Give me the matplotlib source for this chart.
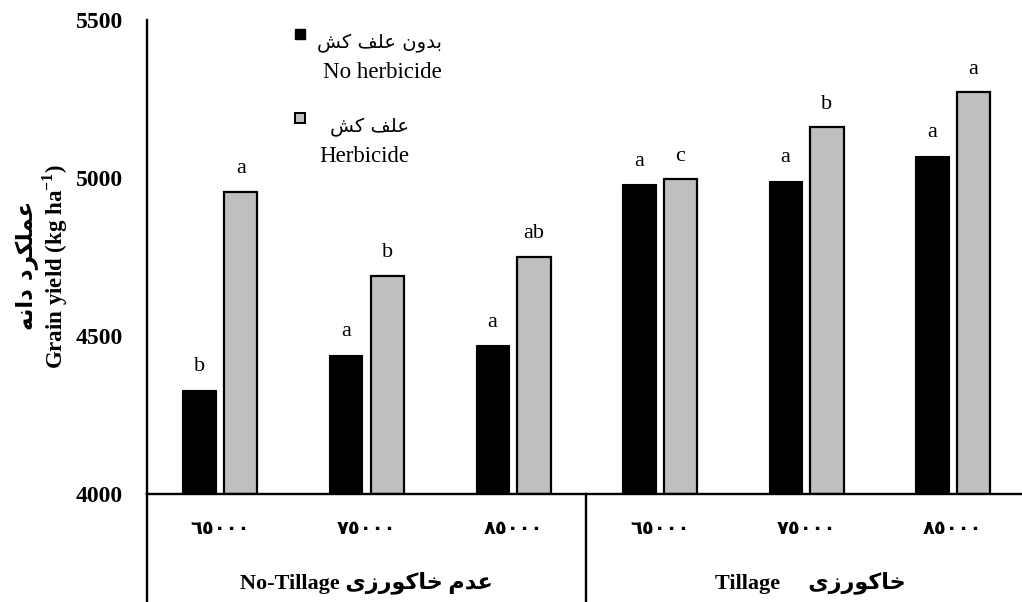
import matplotlib
matplotlib.use("Agg")
import matplotlib.pyplot as plt
from matplotlib.patches import Rectangle
from matplotlib.lines import Line2D
import matplotlib.transforms as mtransforms

# ---------------------------------------------------------------- data
densities = ['٦٥٠٠٠', '٧٥٠٠٠', '٨٥٠٠٠', '٦٥٠٠٠', '٧٥٠٠٠', '٨٥٠٠٠']
no_herbicide = [4330, 4440, 4470, 4980, 4990, 5070]
herbicide = [4955, 4690, 4750, 4995, 5160, 5270]
letters_no_herbicide = ['b', 'a', 'a', 'a', 'a', 'a']
letters_herbicide = ['a', 'b', 'ab', 'c', 'b', 'a']
y_ticks = [4000, 4500, 5000, 5500]

# ---------------------------------------------------------------- Persian shaping
# (isolated, final, initial, medial) presentation forms; None = joins only to the right
FORMS = {
    'ا': ('\uFE8D', '\uFE8E', None, None),
    'ب': ('\uFE8F', '\uFE90', '\uFE91', '\uFE92'),
    'خ': ('\uFEA5', '\uFEA6', '\uFEA7', '\uFEA8'),
    'د': ('\uFEA9', '\uFEAA', None, None),
    'ر': ('\uFEAD', '\uFEAE', None, None),
    'ز': ('\uFEAF', '\uFEB0', None, None),
    'ش': ('\uFEB5', '\uFEB6', '\uFEB7', '\uFEB8'),
    'ع': ('\uFEC9', '\uFECA', '\uFECB', '\uFECC'),
    'ف': ('\uFED1', '\uFED2', '\uFED3', '\uFED4'),
    'ک': ('\uFB8E', '\uFB8F', '\uFB90', '\uFB91'),
    'ل': ('\uFEDD', '\uFEDE', '\uFEDF', '\uFEE0'),
    'م': ('\uFEE1', '\uFEE2', '\uFEE3', '\uFEE4'),
    'ن': ('\uFEE5', '\uFEE6', '\uFEE7', '\uFEE8'),
    'ه': ('\uFEE9', '\uFEEA', '\uFEEB', '\uFEEC'),
    'و': ('\uFEED', '\uFEEE', None, None),
    'ی': ('\uFBFC', '\uFBFD', '\uFBFE', '\uFBFF'),
}


def fa(text):
    """Join Persian letters into their contextual forms and lay them out right-to-left."""
    out = []
    for i, ch in enumerate(text):
        forms = FORMS.get(ch)
        if forms is None:
            out.append(ch)
            continue
        prev = text[i - 1] if i > 0 else ''
        nxt = text[i + 1] if i + 1 < len(text) else ''
        join_prev = prev in FORMS and FORMS[prev][2] is not None
        join_next = nxt in FORMS and forms[2] is not None
        if join_prev and join_next:
            out.append(forms[3])
        elif join_prev:
            out.append(forms[1])
        elif join_next:
            out.append(forms[2])
        else:
            out.append(forms[0])
    return ''.join(reversed(out))


FAM = ['Liberation Serif', 'DejaVu Sans']
plt.rcParams['font.family'] = FAM
plt.rcParams['mathtext.fontset'] = 'custom'
plt.rcParams['mathtext.rm'] = 'Liberation Serif'
plt.rcParams['mathtext.bf'] = 'Liberation Serif:bold'

# ---------------------------------------------------------------- figure
W, H = 1022, 602
fig = plt.figure(figsize=(W / 100, H / 100), dpi=100)
ax_left, ax_right, ax_top, ax_bottom = 146.7, 1026.0, 19.5, 494.0
ax = fig.add_axes([ax_left / W, 1 - ax_bottom / H,
                   (ax_right - ax_left) / W, (ax_bottom - ax_top) / H])

x = list(range(len(densities)))
bw = 0.228
off = 0.142
bars_no = ax.bar([i - off for i in x], [v - 4000 for v in no_herbicide], bw,
                 bottom=4000, color='black', edgecolor='black', linewidth=0.8, zorder=2)
bars_h = ax.bar([i + off for i in x], [v - 4000 for v in herbicide], bw,
                bottom=4000, color='#BFBFBF', edgecolor='black', linewidth=1.6, zorder=2)

for i in x:
    ax.annotate(letters_no_herbicide[i], (i - off, no_herbicide[i]), xytext=(0, 16.5),
                textcoords='offset points', ha='center', va='center', fontsize=16,
                family='Liberation Serif')
    ax.annotate(letters_herbicide[i], (i + off, herbicide[i]), xytext=(0, 16.5),
                textcoords='offset points', ha='center', va='center', fontsize=16,
                family='Liberation Serif')

ax.set_xlim(-0.5, 5.5)
ax.set_ylim(4000, 5500)
ax.set_yticks(y_ticks)
ax.set_yticklabels([str(t) for t in y_ticks], fontsize=17, fontweight='bold',
                   family='Liberation Serif')
ax.set_xticks(x)
ax.set_xticklabels(densities, fontsize=14, fontweight='bold', family='DejaVu Sans')
for lbl in ax.get_xticklabels():
    lbl.set_verticalalignment('center')
ax.tick_params(axis='y', length=0, pad=17)
ax.tick_params(axis='x', length=0, pad=24.5)

for s in ('top', 'right'):
    ax.spines[s].set_visible(False)
for s in ('left', 'bottom'):
    ax.spines[s].set_linewidth(1.7)
    ax.spines[s].set_color('black')

# category frame below the axis
trans = mtransforms.blended_transform_factory(ax.transData, ax.transAxes)
ax.add_line(Line2D([-0.5, -0.5], [0, -0.3], transform=trans, color='black',
                   linewidth=1.7, clip_on=False))
ax.add_line(Line2D([2.5, 2.5], [0, -0.3], transform=trans, color='black',
                   linewidth=1.7, clip_on=False))

ax.annotate('No-Tillage ' + fa('عدم خاکورزی'), xy=(1, 0), xycoords=trans,
            xytext=(0, -63.5), textcoords='offset points', ha='center', va='center',
            fontsize=16, fontweight='bold', family=FAM)
ax.annotate('Tillage     ' + fa('خاکورزی'), xy=(4.03, 0), xycoords=trans,
            xytext=(0, -63.5), textcoords='offset points', ha='center', va='center',
            fontsize=16, fontweight='bold', family=FAM)

# y-axis title, English and Persian
fig.text(55 / W, 1 - 266 / H, r'Grain yield (kg ha$^{\mathbf{-1}}$)', rotation=90,
         ha='center', va='center', fontsize=16.5, fontweight='bold', family='Liberation Serif')
fig.text(27 / W, 1 - 265 / H, fa('عملکرد دانه'), rotation=90, ha='center', va='center',
         fontsize=16.5, fontweight='bold', family='DejaVu Sans')

# legend
def px(xp, yp):
    return xp / W, 1 - yp / H

fig.add_artist(Rectangle(px(295, 39), 10 / W, 10 / H, transform=fig.transFigure,
                         facecolor='black', edgecolor='black', linewidth=1.0))
fig.add_artist(Rectangle(px(295, 123), 10 / W, 10 / H, transform=fig.transFigure,
                         facecolor='#BFBFBF', edgecolor='black', linewidth=1.4))
fig.text(*px(442, 43), fa('بدون علف کش'), ha='right', va='center', fontsize=14,
         family='DejaVu Sans')
fig.text(*px(442, 73), 'No herbicide', ha='right', va='center', fontsize=16.5,
         family='Liberation Serif')
fig.text(*px(409, 127), fa('علف کش'), ha='right', va='center', fontsize=14,
         family='DejaVu Sans')
fig.text(*px(409, 157), 'Herbicide', ha='right', va='center', fontsize=16.5,
         family='Liberation Serif')

fig.savefig('out.png', dpi=100)
